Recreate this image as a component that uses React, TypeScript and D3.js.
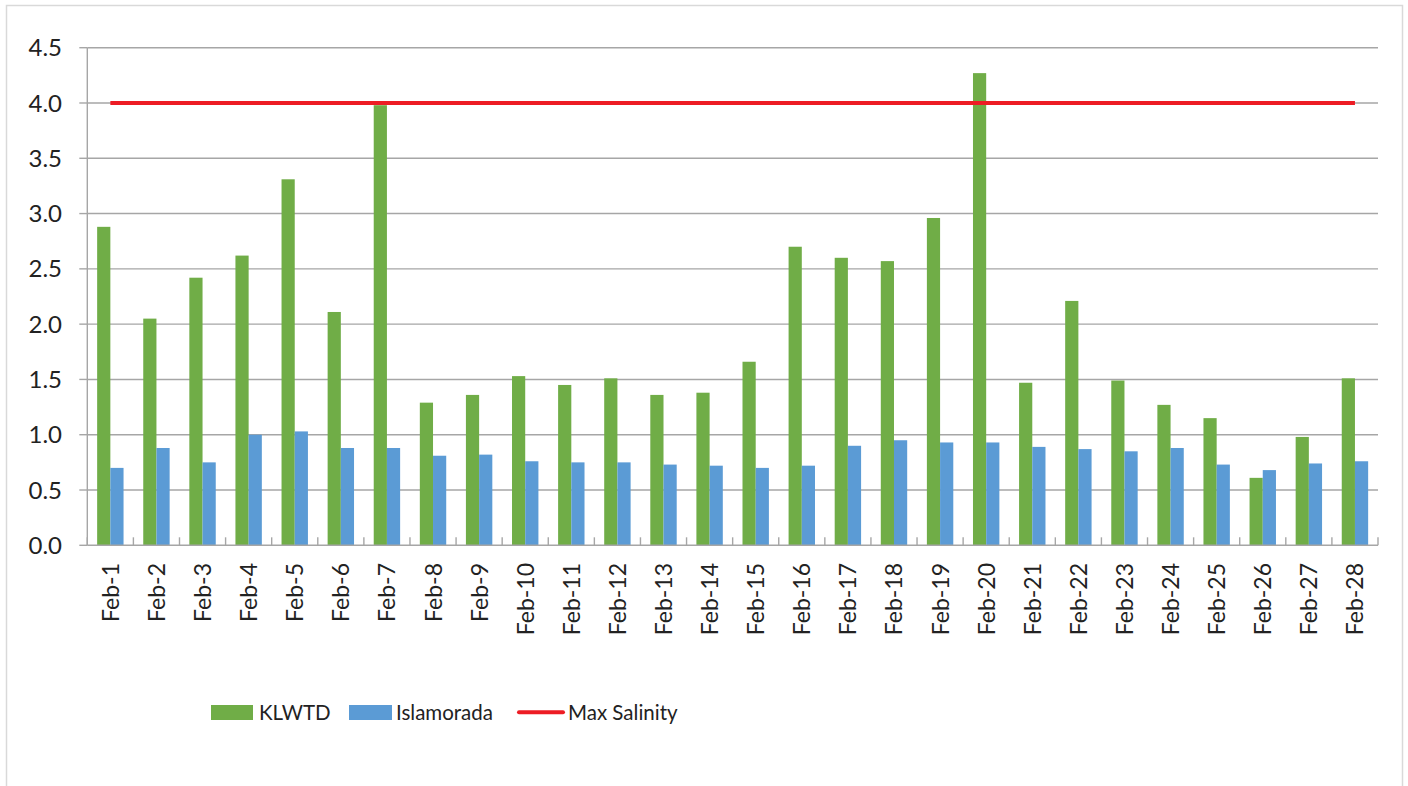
import React from "react";
import * as d3 from "d3";

const categories = [
  "Feb-1","Feb-2","Feb-3","Feb-4","Feb-5","Feb-6","Feb-7","Feb-8","Feb-9","Feb-10",
  "Feb-11","Feb-12","Feb-13","Feb-14","Feb-15","Feb-16","Feb-17","Feb-18","Feb-19","Feb-20",
  "Feb-21","Feb-22","Feb-23","Feb-24","Feb-25","Feb-26","Feb-27","Feb-28",
];
const klwtd = [
  2.88, 2.05, 2.42, 2.62, 3.31, 2.11, 3.98, 1.29, 1.36, 1.53,
  1.45, 1.51, 1.36, 1.38, 1.66, 2.70, 2.60, 2.57, 2.96, 4.27,
  1.47, 2.21, 1.49, 1.27, 1.15, 0.61, 0.98, 1.51,
];
const islamorada = [
  0.70, 0.88, 0.75, 1.00, 1.03, 0.88, 0.88, 0.81, 0.82, 0.76,
  0.75, 0.75, 0.73, 0.72, 0.70, 0.72, 0.90, 0.95, 0.93, 0.93,
  0.89, 0.87, 0.85, 0.88, 0.73, 0.68, 0.74, 0.76,
];
const maxSalinity = 4.0;
const yTicks = [0, 0.5, 1.0, 1.5, 2.0, 2.5, 3.0, 3.5, 4.0, 4.5];
const seriesNames = ["KLWTD", "Islamorada", "Max Salinity"];

const GREEN = "#70AD47";
const BLUE = "#5B9BD5";
const RED = "#ED1C24";
const GRID = "#A6A6A6";
const TEXT = "#222222";
const FONT = "Lato, 'Open Sans', sans-serif";

export default function App() {
  const W = 1408, H = 786;
  const left = 87.3, right = 1378, top = 47.7, bottom = 545.3;
  const x = d3.scaleBand<string>().domain(categories).range([left, right]).padding(0);
  const y = d3.scaleLinear().domain([0, 4.5]).range([bottom, top]);
  const bw = 13.2;
  const line = d3.line<number>()
    .x((_, i) => (x(categories[i]) as number) + x.bandwidth() / 2)
    .y((v) => y(v));
  const redData = categories.map(() => maxSalinity);

  return (
    <svg width={W} height={H} style={{ position: "absolute", left: 0, top: 0 }}>
      <rect x={0} y={0} width={W} height={H} fill="#fff" />
      <rect x={6.5} y={5.5} width={1396} height={800} fill="#fff" stroke="#D9D9D9" strokeWidth={1.5} />
      {yTicks.map((t) => (
        <g key={t}>
          {t > 0 && <line x1={left} x2={right} y1={y(t)} y2={y(t)} stroke={GRID} strokeWidth={1.4} />}
          <line x1={left - 8} x2={left} y1={y(t)} y2={y(t)} stroke={GRID} strokeWidth={1.4} />
          <text x={62} y={y(t)} dy="0.36em" textAnchor="end" fontFamily={FONT} fontSize={24} fill={TEXT}>
            {t.toFixed(1)}
          </text>
        </g>
      ))}
      {categories.map((c, i) => {
        const x0 = x(c) as number;
        const cx = x0 + x.bandwidth() / 2;
        return (
          <g key={c}>
            <rect x={cx - bw} y={y(klwtd[i])} width={bw} height={bottom - y(klwtd[i])} fill={GREEN} />
            <rect x={cx} y={y(islamorada[i])} width={bw} height={bottom - y(islamorada[i])} fill={BLUE} />
          </g>
        );
      })}
      <line x1={left} x2={left} y1={top} y2={bottom} stroke={GRID} strokeWidth={1.4} />
      <line x1={left} x2={right} y1={bottom} y2={bottom} stroke={GRID} strokeWidth={1.6} />
      {categories.map((c) => (
        <line key={"t" + c} x1={(x(c) as number)} x2={(x(c) as number)} y1={bottom - 8} y2={bottom} stroke={GRID} strokeWidth={1.4} />
      ))}
      <line x1={right} x2={right} y1={bottom - 8} y2={bottom} stroke={GRID} strokeWidth={1.4} />
      <path d={line(redData) || ""} fill="none" stroke={RED} strokeWidth={4} />
      {categories.map((c) => {
        const cx = (x(c) as number) + x.bandwidth() / 2;
        return (
          <text key={"l" + c} transform={`translate(${cx + 8.5},${563}) rotate(-90)`} textAnchor="end"
            fontFamily={FONT} fontSize={23} fill={TEXT}>
            {c}
          </text>
        );
      })}
      <g fontFamily={FONT} fontSize={20.5} fill={TEXT}>
        <rect x={211} y={705} width={42} height={15} fill={GREEN} />
        <text x={259} y={712.5} dy="0.36em">{seriesNames[0]}</text>
        <rect x={349} y={705} width={43} height={15} fill={BLUE} />
        <text x={396} y={712.5} dy="0.36em">{seriesNames[1]}</text>
        <line x1={519} x2={563} y1={712.3} y2={712.3} stroke={RED} strokeWidth={4} strokeLinecap="round" />
        <text x={568} y={712.5} dy="0.36em">{seriesNames[2]}</text>
      </g>
    </svg>
  );
}
